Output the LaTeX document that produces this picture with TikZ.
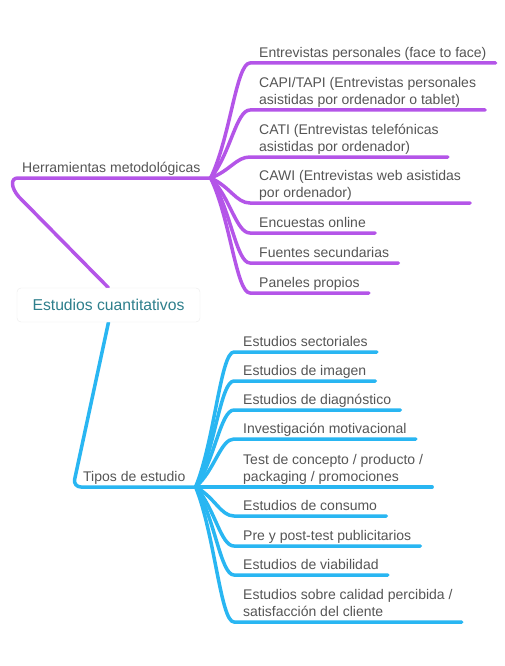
\documentclass[tikz,border=0pt]{standalone}
\usepackage{fontspec}
\setmainfont{Liberation Sans}
\usetikzlibrary{calc,backgrounds}
\definecolor{purp}{HTML}{B455E8}
\definecolor{sky}{HTML}{29B6F2}
\definecolor{txtgray}{HTML}{555555}
\definecolor{rootteal}{HTML}{2E7F8C}
\newcommand\branchto[3]{%
  \draw[#1] let \p1=(#2), \p2=(#3.south west) in
    (\p1) .. controls ({\x1+0.5*(\x2-\x1)},{\y1+0.35*(\y2-\y1)})
          and ({\x2-0.35*(\x2-\x1)},{\y2}) .. (\p2) -- (#3.south east);}
\begin{document}
\begin{tikzpicture}[x=1pt,y=-1pt,
  purpline/.style={draw=purp, line width=3.5pt, line cap=round, line join=round},
  skyline/.style={draw=sky, line width=3.5pt, line cap=round, line join=round},
  leaf/.style={anchor=south west, inner xsep=9pt, inner ysep=2.5pt, text depth=3pt,
    align=left, font=\fontsize{14}{17}\selectfont, text=txtgray},
  branchnode/.style={anchor=south west, inner xsep=10pt, inner ysep=2.5pt, text depth=3pt,
    font=\fontsize{14}{17}\selectfont, text=txtgray},
  rootbox/.style={draw=black!8, fill=white, rounded corners=4pt, minimum width=183pt,
    minimum height=34pt, inner xsep=10pt, font=\fontsize{15.7}{18}\selectfont, text=rootteal}]
\useasboundingbox (0,0) rectangle (504,666);

% root
\node[rootbox] (root) at (108.5,305) {Estudios cuantitativos};

% level 1
\node[branchnode] (herr) at (12,178) {Herramientas metodológicas};
\node[branchnode] (tipos) at (73,487) {Tipos de estudio};

% purple leaves
\node[leaf] (p1) at (250,63) {Entrevistas personales (face to face)};
\node[leaf] (p2) at (250,110) {CAPI/TAPI (Entrevistas personales\\asistidas por ordenador o tablet)};
\node[leaf] (p3) at (250,157) {CATI (Entrevistas telefónicas\\asistidas por ordenador)};
\node[leaf] (p4) at (250,203) {CAWI (Entrevistas web asistidas\\por ordenador)};
\node[leaf] (p5) at (250,233) {Encuestas online};
\node[leaf] (p6) at (250,263) {Fuentes secundarias};
\node[leaf] (p7) at (250,293) {Paneles propios};

% blue leaves
\node[leaf] (b1) at (234,352) {Estudios sectoriales};
\node[leaf] (b2) at (234,381) {Estudios de imagen};
\node[leaf] (b3) at (234,410) {Estudios de diagnóstico};
\node[leaf] (b4) at (234,439) {Investigación motivacional};
\node[leaf] (b5) at (234,487) {Test de concepto / producto /\\packaging / promociones};
\node[leaf] (b6) at (234,516) {Estudios de consumo};
\node[leaf] (b7) at (234,546) {Pre y post-test publicitarios};
\node[leaf] (b8) at (234,575) {Estudios de viabilidad};
\node[leaf] (b9) at (234,622) {Estudios sobre calidad percibida /\\satisfacción del cliente};

\coordinate (hbend) at (19,197);

\begin{scope}[on background layer]
  \fill[white] (0,0) rectangle (504,666);
  \draw[purpline] (root.north) -- (hbend)
    .. controls ($(herr.south west)+(-1,10)$) and ($(herr.south west)+(-2,0)$) .. ($(herr.south west)+(6,0)$)
    -- (herr.south east);
  \draw[skyline, rounded corners=8pt] (root.south) -- (tipos.south west) -- (tipos.south east);
  \foreach \c in {p1,p2,p3,p4,p5,p6,p7} {\branchto{purpline}{herr.south east}{\c}}
  \foreach \c in {b1,b2,b3,b4,b5,b6,b7,b8,b9} {\branchto{skyline}{tipos.south east}{\c}}
\end{scope}
\end{tikzpicture}
\end{document}
